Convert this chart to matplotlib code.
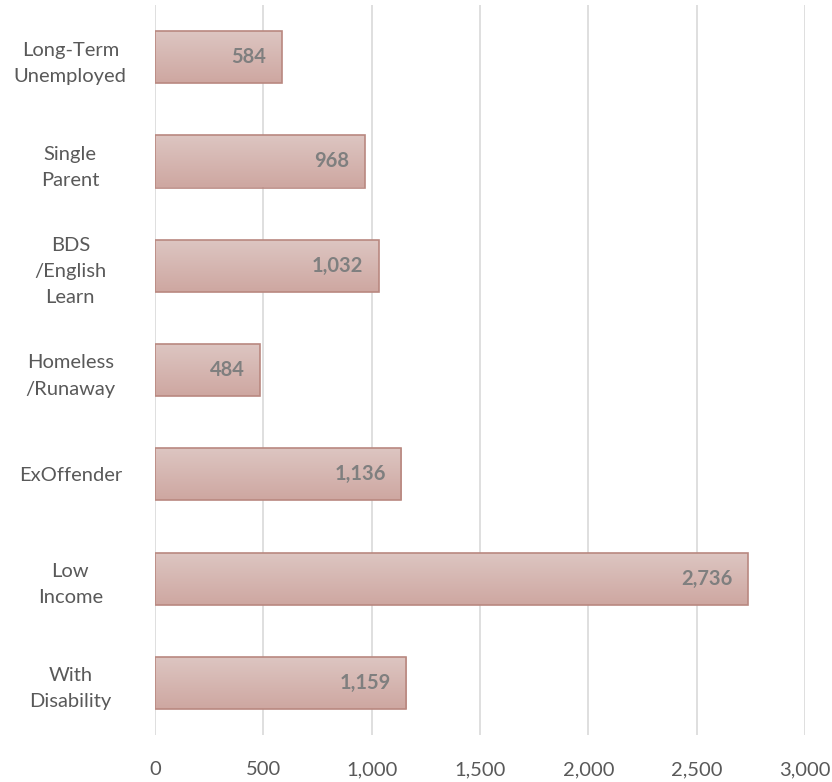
import matplotlib

matplotlib.use("Agg")
import matplotlib.pyplot as plt
import numpy as np
from matplotlib.colors import LinearSegmentedColormap

plt.rcParams["font.family"] = ["Lato", "DejaVu Sans"]

# bottom to top
categories = [
    "With\nDisability",
    "Low\nIncome",
    "ExOffender",
    "Homeless\n/Runaway",
    "BDS\n/English\nLearn",
    "Single\nParent",
    "Long-Term\nUnemployed",
]
values = [1159, 2736, 1136, 484, 1032, 968, 584]
x_ticks = [0, 500, 1000, 1500, 2000, 2500, 3000]

fig = plt.figure(figsize=(8.32, 7.82), dpi=100)
ax = fig.add_axes([155 / 832, 47 / 782, 650 / 832, 730 / 782])

y = np.arange(len(categories))
bars = ax.barh(y, values, height=0.5, color="none", edgecolor="#b98880",
               linewidth=1.2, zorder=3)

# vertical gradient fill, clipped to each bar
cmap = LinearSegmentedColormap.from_list("bar", ["#cea7a1", "#ddc6c2"])
grad = np.linspace(0, 1, 100).reshape(-1, 1)
for bar in bars:
    x0, y0 = bar.get_x(), bar.get_y()
    w, h = bar.get_width(), bar.get_height()
    im = ax.imshow(grad, cmap=cmap, origin="lower", aspect="auto",
                   extent=[x0, x0 + w, y0, y0 + h], zorder=2)
    im.set_clip_path(bar)

for yi, v in zip(y, values):
    ax.text(v - 70, yi, f"{v:,}", ha="right", va="center", fontsize=14.5,
            fontweight="bold", color="#7f7f7f", zorder=4)

ax.set_xlim(0, 3000)
ax.set_ylim(-0.5, len(categories) - 0.5)
ax.set_xticks(x_ticks)
ax.set_xticklabels([f"{t:,}" for t in x_ticks])
ax.set_yticks(y)
ax.set_yticklabels(categories, ha="center", linespacing=1.65)
ax.tick_params(axis="y", pad=61, length=0, labelsize=14.5, labelcolor="#595959")
ax.tick_params(axis="x", pad=19, length=0, labelsize=14.5, labelcolor="#595959")
ax.grid(axis="x", color="#d9d9d9", linewidth=1.2, zorder=0)
ax.set_axisbelow(True)
for s in ax.spines.values():
    s.set_visible(False)

fig.savefig("out.png", dpi=100, facecolor="white")
